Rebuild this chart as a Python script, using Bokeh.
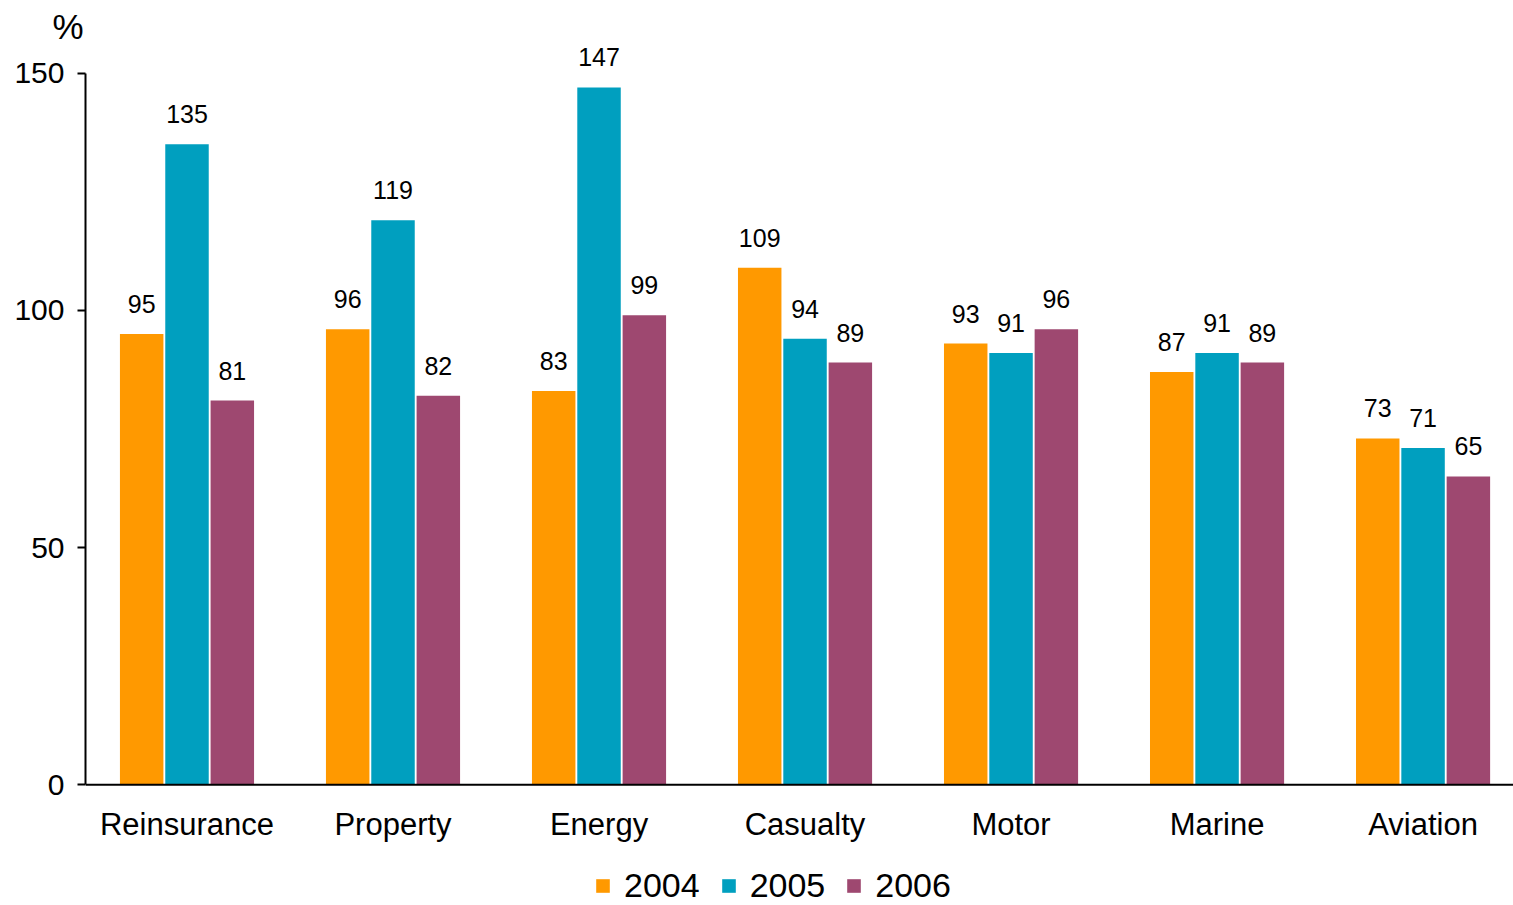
from bokeh.plotting import figure
from bokeh.models import ColumnDataSource, Range1d, Legend, LegendItem, Span, FixedTicker, Title
from bokeh.transform import dodge
from bokeh.core.properties import value
from bokeh.embed import file_html
from bokeh.resources import INLINE

categories = ["Reinsurance", "Property", "Energy", "Casualty", "Motor", "Marine", "Aviation"]
years = ["2004", "2005", "2006"]
v2004 = [95, 96, 83, 109, 93, 87, 73]
v2005 = [135, 119, 147, 94, 91, 91, 71]
v2006 = [81, 82, 99, 89, 96, 89, 65]
y_ticks = [0, 50, 100, 150]

colors = ["#FF9900", "#009FBF", "#9E4870"]
FONT = "Liberation Sans"

xc = [i + 0.5 for i in range(len(categories))]
src = ColumnDataSource(dict(cat=categories, xc=xc, zero=[0] * len(categories),
                            v2004=v2004, v2005=v2005, v2006=v2006,
                            l2004=[str(v) for v in v2004],
                            l2005=[str(v) for v in v2005],
                            l2006=[str(v) for v in v2006]))

p = figure(width=1513, height=905, x_range=Range1d(0.0073, 6.939),
           y_range=Range1d(-25.45, 155.84), output_backend="svg", toolbar_location=None,
           x_axis_location=None,
           min_border_left=85, min_border_right=0, min_border_top=45, min_border_bottom=0)
p.outline_line_color = None
p.xgrid.grid_line_color = None
p.ygrid.grid_line_color = None

p.add_layout(Title(text="%", align="left", offset=-33, standoff=0, text_font=FONT,
                   text_font_size="35px", text_font_style="normal", text_color="#000000"), "above")

offsets = [-0.22, 0.0, 0.22]
renderers = []
for yr, off, col in zip(years, offsets, colors):
    r = p.vbar(x=dodge("xc", off), top="v" + yr, width=0.211, source=src,
               fill_color=col, line_color=None)
    renderers.append(r)
    p.text(x=dodge("xc", off), y="v" + yr, text="l" + yr, source=src,
           text_align="center", text_baseline="alphabetic", y_offset=-30,
           text_font=value(FONT), text_font_size="25px", text_color="#000000")

# x axis line and category labels
p.add_layout(Span(location=0, dimension="width", line_color="#000000", line_width=2))
p.text(x="xc", y="zero", text="cat", source=src, text_align="center",
       text_baseline="alphabetic", y_offset=40,
       text_font=value(FONT), text_font_size="31px", text_color="#000000")

# y axis
p.yaxis.ticker = FixedTicker(ticks=y_ticks)
p.yaxis.bounds = (0, 150)
p.yaxis.major_tick_out = 8
p.yaxis.major_tick_in = 0
p.yaxis.minor_tick_line_color = None
p.yaxis.axis_line_width = 2
p.yaxis.major_tick_line_width = 2
p.yaxis.axis_line_color = "#000000"
p.yaxis.major_tick_line_color = "#000000"
p.yaxis.major_label_text_font = FONT
p.yaxis.major_label_text_font_size = "30px"
p.yaxis.major_label_text_color = "#000000"
p.yaxis.major_label_standoff = 13

legend = Legend(items=[LegendItem(label=yr, renderers=[r]) for yr, r in zip(years, renderers)],
                orientation="horizontal", location=(509, 0), border_line_color=None,
                label_text_font=FONT, label_text_font_size="34px", label_text_color="#000000",
                glyph_width=17, glyph_height=17,
                spacing=20, label_standoff=13, padding=0, margin=0, background_fill_alpha=0)
p.add_layout(legend, "center")

open("out.html", "w").write(file_html(p, INLINE))
